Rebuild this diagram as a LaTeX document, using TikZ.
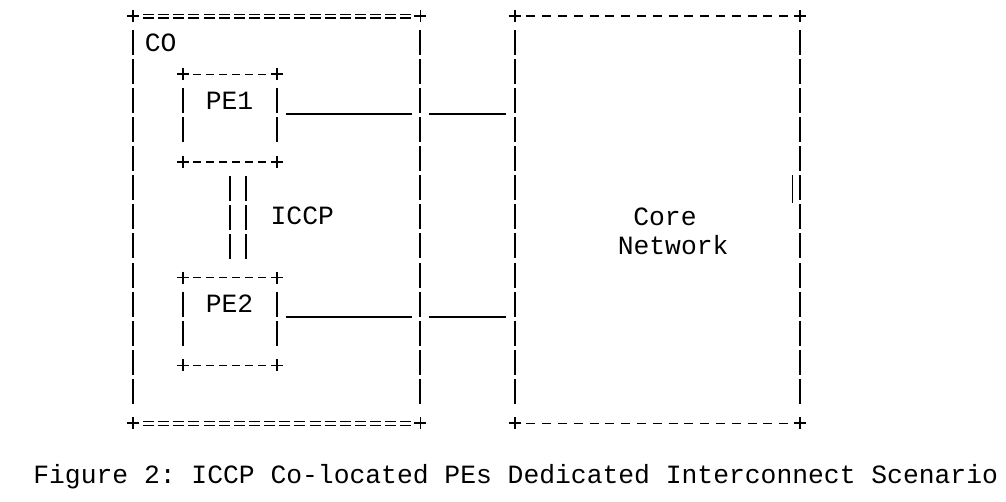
\documentclass[tikz,border=0pt]{standalone}
\usepackage{fontspec}
\setmainfont{Liberation Mono}
\usetikzlibrary{calc}

\begin{document}
\begin{tikzpicture}[x=0.02cm, y=-0.02cm,
    txt/.style={inner sep=0pt, font=\fontsize{15}{16.5}\selectfont\frenchspacing},
    frame/.style 2 args={rectangle, inner sep=0pt, minimum width=#1, minimum height=#2},
    eqline/.style={line width=0.75pt, double, double distance=1.45pt, dash pattern=on 6.26pt off 2.36pt},
    dashline/.style 2 args={line width=0.9pt, dash pattern=on #1 off #2},
    bar/.style={line width=1.05pt, dash pattern=on 14.23pt off 2.3pt},
    link/.style={line width=0.8pt, shorten <=4.8pt, shorten >=4.8pt},
    plus/.style={line width=1pt}]
\useasboundingbox (0,0) rectangle (1006,502);

\begin{scope}
    \node (co) [frame={5.734cm}{8.13cm}] at (276.7,219.75) {};
    \node (pe1) [frame={1.874cm}{1.742cm}] at (229.9,118.2) {};
    \node (pe2) [frame={1.874cm}{1.742cm}] at (229.9,321.5) {};
    \node (colbl) [txt, anchor=base west] at (144.5,51.7) {CO};
    \node (pe1lbl) [txt, anchor=base] at (229.5,109.3) {PE1};
    \node (pe2lbl) [txt, anchor=base] at (229.5,312.6) {PE2};
    \node (iccp) [txt, anchor=base] at (302.3,225) {ICCP};
    \draw[eqline] ($(co.north west)+(10,0)$) -- ($(co.north east)+(-8.3,0)$);
    \draw[eqline] ($(co.south west)+(10,0)$) -- ($(co.south east)+(-8.3,0)$);
    \foreach \n in {pe1,pe2}{
    \draw[dashline={4.78pt}{2.62pt}] ($(\n.north west)+(10.3,0)$) -- ($(\n.north east)+(-10,0)$);
    \draw[dashline={4.78pt}{2.62pt}] ($(\n.south west)+(10.3,0)$) -- ($(\n.south east)+(-10,0)$);}
    % ICCP
    \path[bar] ($(pe1.south)+(0,14)$) edge ($(pe2.north)+(0,-19)$);
    \path[bar] ($(pe1.south)+(15.7,14)$) edge ($(pe2.north)+(15.7,-19)$);
\end{scope}

\begin{scope}
    \node (core) [frame={5.686cm}{8.13cm}] at (657.2,219.75) {};
    \node (corelbl) [txt, anchor=base west] at (633,225.5) {Core};
    \node (netlbl) [txt, anchor=base west] at (617.4,254.5) {Network};
    \draw[dashline={5.12pt}{3.87pt}] ($(core.north west)+(11.7,0)$) -- ($(core.north east)+(-11,0)$);
    \draw[dashline={5.12pt}{3.87pt}] ($(core.south west)+(11.7,0)$) -- ($(core.south east)+(-11,0)$);
    \draw[line width=0.6pt] ($(core.north east)+(-7,159.2)$) -- ++(0,27.6);
\end{scope}

\foreach \n in {co,pe1,pe2,core}{
    \draw[bar] ($(\n.north west)+(0,14)$) -- ($(\n.south west)+(0,-19)$);
    \draw[bar] ($(\n.north east)+(0,14)$) -- ($(\n.south east)+(0,-19)$);
    \foreach \c in {north west,north east,south west,south east}
    \draw[plus] ($(\n.\c)+(-6,0)$) -- ++(12,0) ($(\n.\c)+(0,-6)$) -- ++(0,12);}

% links to the core
\coordinate (a1) at ($(pe1.east)+(0,-4.2)$);
\coordinate (b1) at (a1 -| co.east);
\coordinate (c1) at (a1 -| core.west);
\coordinate (a2) at ($(pe2.east)+(0,-4.5)$);
\coordinate (b2) at (a2 -| co.east);
\coordinate (c2) at (a2 -| core.west);
\path[link] (a1) edge (b1) (b1) edge (c1);
\path[link] (a2) edge (b2) (b2) edge (c2);

\node (caption) [txt, anchor=base west] at (33,483.5) {Figure 2: ICCP Co-located PEs Dedicated Interconnect Scenario};
\end{tikzpicture}
\end{document}
